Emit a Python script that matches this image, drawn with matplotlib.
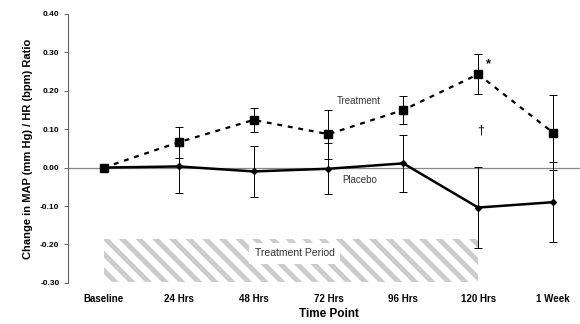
import numpy as np
import matplotlib
matplotlib.use("Agg")
import matplotlib.pyplot as plt
from matplotlib.patches import Rectangle

time_points = ["Baseline", "24 Hrs", "48 Hrs", "72 Hrs", "96 Hrs", "120 Hrs", "1 Week"]
treatment_mean = [0.0, 0.066, 0.124, 0.087, 0.150, 0.243, 0.091]
treatment_err = [0.0, 0.040, 0.031, 0.064, 0.036, 0.052, 0.098]
placebo_mean = [0.0, 0.003, -0.010, -0.003, 0.011, -0.104, -0.090]
placebo_err = [0.0, 0.070, 0.066, 0.067, 0.074, 0.106, 0.104]

y_ticks = [0.40, 0.30, 0.20, 0.10, 0.00, -0.10, -0.20, -0.30]
period_start, period_end = 0, 5   # Baseline bis 120 Hrs
period_low, period_high = -0.298, -0.185

plt.rcParams.update({
    "font.family": ["Liberation Sans", "DejaVu Sans"],
    "hatch.linewidth": 3.6,
})

fig = plt.figure(figsize=(5.8, 3.24), dpi=100)
ax = fig.add_axes([0.117, 0.127, 0.883, 0.83])

x = np.arange(len(time_points))

# Behandlungszeitraum (schraffiert)
ax.add_patch(Rectangle((period_start, period_low), period_end - period_start,
                       period_high - period_low, facecolor="white",
                       edgecolor="#cccccc", hatch="\\\\", linewidth=0,
                       zorder=0))
ax.text(2.55, -0.223, "Treatment Period", fontsize=7.5, color="#333333",
        ha="center", va="center", zorder=1,
        bbox=dict(facecolor="white", edgecolor="none", pad=4))

ax.axhline(0, color="#888888", linewidth=0.9, zorder=1)

ax.errorbar(x, placebo_mean, yerr=placebo_err, color="black", linewidth=1.8,
            marker="D", markersize=3, elinewidth=0.7, capsize=3,
            capthick=0.7, zorder=3)
ax.errorbar(x, treatment_mean, yerr=treatment_err, color="black",
            linewidth=1.6, linestyle=(0, (2.2, 2.6)), marker="s",
            markersize=6, elinewidth=0.7, capsize=3, capthick=0.7, zorder=4)

ax.text(3.4, 0.174, "Treatment", fontsize=7, color="#333333",
        ha="center", va="center")
ax.text(3.42, -0.031, "Placebo", fontsize=7, color="#333333",
        ha="center", va="center")
ax.text(5.14, 0.27, "*", fontsize=9, fontweight="bold", ha="center",
        va="center")
ax.text(5.03, 0.096, "\u2020", fontsize=9, ha="center", va="center")

ax.set_xlim(-0.48, 6.36)
ax.set_ylim(-0.30, 0.40)
ax.set_yticks(y_ticks)
ax.set_yticklabels([f"{v:.2f}" for v in y_ticks], fontsize=6, fontweight="bold")
ax.set_xticks(x)
ax.set_xticklabels(time_points, fontsize=7, fontweight="bold")
ax.tick_params(axis="x", length=0, pad=8)
ax.tick_params(axis="y", length=3, width=0.7, color="#666666", pad=3)

for side in ("top", "right", "bottom"):
    ax.spines[side].set_visible(False)
ax.spines["left"].set_color("#666666")
ax.spines["left"].set_linewidth(0.8)

ax.set_xlabel("Time Point", fontsize=8.5, fontweight="bold")
ax.xaxis.set_label_coords(0.51, -0.095)
ax.set_ylabel("Change in MAP (mm Hg) / HR (bpm) Ratio", fontsize=8,
              fontweight="bold", labelpad=5)

fig.savefig("out.png", dpi=100)
